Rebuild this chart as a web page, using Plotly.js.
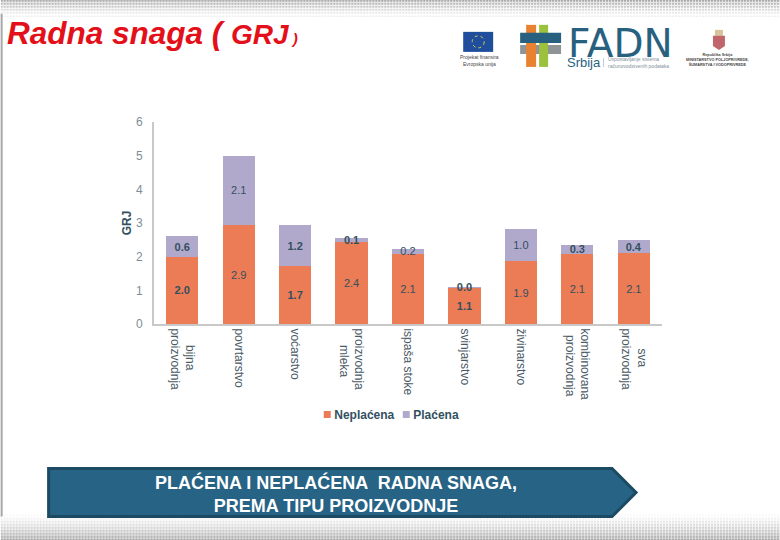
<!DOCTYPE html>
<html><head><meta charset="utf-8">
<script src="https://cdn.plot.ly/plotly-3.0.1.min.js"></script>
<style>html,body{margin:0;padding:0;background:#fff}#c{width:780px;height:540px}</style>
</head><body><div id="c"></div>
<script>
const categories = ["\u00A0\u00A0\u00A0\u00A0\u00A0bijna<br>proizvodnja","povrtarstvo","voćarstvo","proizvodnja<br>\u00A0\u00A0\u00A0\u00A0\u00A0mleka","ispaša stoke","svinjarstvo","živinarstvo","kombinovana<br>\u00A0\u00A0proizvodnja","\u00A0\u00A0\u00A0\u00A0\u00A0\u00A0sva<br>proizvodnja"];
const neplacena = [2.0,2.94,1.72,2.43,2.08,1.08,1.87,2.09,2.1];
const placena = [0.6,2.06,1.22,0.12,0.16,0.02,0.96,0.25,0.39];
const neplacenaWeights = [700,400,700,400,400,700,400,400,400];
const placenaWeights = [700,400,700,700,400,700,400,700,700];
const yTicks = [0,1,2,3,4,5,6];
const W=780,H=540;
const L=153.5,R=662,T=122,B=323.7;
const px=x=>(x-L)/(R-L), py=y=>(B-y)/(B-T);
function rect(x0,y0,x1,y1,fill,extra){return Object.assign({type:'rect',xref:'paper',yref:'paper',x0:px(x0),x1:px(x1),y0:py(y0),y1:py(y1),fillcolor:fill,line:{width:0},layer:'above'},extra||{});}
function note(x,y,text,size,color,extra){return Object.assign({xref:'paper',yref:'paper',x:px(x),y:py(y),text:text,showarrow:false,font:{size:size,color:color,family:'Liberation Sans'},xanchor:'center',yanchor:'middle'},extra||{});}
function band(dir,h){
  const top=dir>0?'#dedede':'#ffffff', bot=dir>0?'#ffffff':'#d0d0d0';
  const o0=dir>0?0:1, o1=dir>0?1:0;
  const svg=`<svg xmlns="http://www.w3.org/2000/svg" width="780" height="${h}"><defs><pattern id="p" width="3" height="3" patternUnits="userSpaceOnUse"><rect width="2" height="2" fill="#a6a6a6"/></pattern><linearGradient id="b" x1="0" y1="0" x2="0" y2="1"><stop offset="0" stop-color="${top}"/><stop offset="1" stop-color="${bot}"/></linearGradient><linearGradient id="g" x1="0" y1="0" x2="0" y2="1"><stop offset="0" stop-color="#fff" stop-opacity="${o0}"/><stop offset="1" stop-color="#fff" stop-opacity="${o1}"/></linearGradient></defs><rect width="780" height="${h}" fill="url(#b)"/><rect width="780" height="${h}" fill="url(#p)"/><rect width="780" height="${h}" fill="url(#g)"/></svg>`;
  return 'data:image/svg+xml;base64,'+btoa(svg);
}
const shapes=[
  rect(0,14,2,516,'#a8a8a8',{layer:'below'}),
  // EU flag
  rect(463,32,493,52,'#1f4e9c'),
  {type:'circle',xref:'paper',yref:'paper',x0:px(472),x1:px(484),y0:py(36),y1:py(48),line:{color:'#d9cb55',width:1,dash:'dot'},layer:'above'},
  // FADN mark
  rect(520,45,561,54,'#8f9496'),
  rect(526,25,536,67,'#e98230'),
  rect(539,25,548,67,'#9cc13c'),
  rect(520,33,561,43,'#27617f'),
  rect(603,58,603.6,67,'#9aa8b0'),
  // crest
  rect(715,30,723,36,'#d8c49a'),
  {type:'path',xref:'paper',yref:'paper',path:`M ${px(713)} ${py(36)} L ${px(725)} ${py(36)} L ${px(725)} ${py(46)} L ${px(719)} ${py(50)} L ${px(713)} ${py(46)} Z`,fillcolor:'#c0666a',line:{width:0},layer:'above'},
  // arrow
  {type:'path',xref:'paper',yref:'paper',path:`M ${px(48)} ${py(468)} L ${px(612)} ${py(468)} L ${px(636)} ${py(492)} L ${px(612)} ${py(516)} L ${px(48)} ${py(516)} Z`,fillcolor:'#266384',line:{color:'#1d4a63',width:3},layer:'above'}
];
const annotations=[
  note(4,33,'<b><i>Radna snaga ( <span style="font-size:28px">GRJ</span><span style="font-size:15px"> )</span></i></b>',31.5,'#e3101a',{xanchor:'left'}),
  note(620,44,'FADN',39,'#27617f',{font:{size:39,color:'#27617f',family:'DejaVu Sans'}}),
  note(584,63,'Srbija',13,'#27617f'),
  note(606,62.5,'Uspostavljanje sistema<br>računovodstvenih podataka',5,'#7f919c',{xanchor:'left',align:'left'}),
  note(479,60.5,'Projekat finansira<br>Evropska unija',5,'#444'),
  note(718,60,'<b>Republika Srbija<br>MINISTARSTVO POLJOPRIVREDE,<br>ŠUMARSTVA I VODOPRIVREDE</b>',3.8,'#444'),
  note(336,493,'<b>PLAĆENA I NEPLAĆENA  RADNA SNAGA,<br>PREMA TIPU PROIZVODNJE</b>',18,'#ffffff')
];
const images=[
  {source:band(1,17),xref:'paper',yref:'paper',x:px(0),y:py(0),sizex:780/(R-L),sizey:17/(B-T),xanchor:'left',yanchor:'top',sizing:'stretch',layer:'below'},
  {source:band(-1,26),xref:'paper',yref:'paper',x:px(0),y:py(514),sizex:780/(R-L),sizey:26/(B-T),xanchor:'left',yanchor:'top',sizing:'stretch',layer:'below'}
];
const common={type:'bar',x:categories,texttemplate:'%{y:.1f}',textposition:'inside',insidetextanchor:'middle',constraintext:'none',textangle:0,cliponaxis:false,hoverinfo:'skip'};
const labelFont=w=>({size:11,color:'#33505f',family:'Liberation Sans',weight:w});
const traces=[
  Object.assign({},common,{name:'Neplaćena',y:neplacena,marker:{color:'#ec7c55'},insidetextfont:labelFont(neplacenaWeights)}),
  Object.assign({},common,{name:'Plaćena',y:placena,marker:{color:'#b1a9cc'},insidetextfont:labelFont(placenaWeights)})
];
const layout={
  width:W,height:H,paper_bgcolor:'rgba(0,0,0,0)',plot_bgcolor:'rgba(0,0,0,0)',showlegend:true,
  margin:{l:L,r:W-R,t:T,b:H-B,pad:0},barmode:'stack',bargap:0.43,
  font:{family:'Liberation Sans',color:'#555'},
  xaxis:{type:'category',tickangle:90,tickfont:{size:12,color:'#4a5a66'},ticks:'',showline:true,linecolor:'#c8c8c8',linewidth:2,showgrid:false,automargin:false},
  yaxis:{range:[0,6],tickvals:yTicks,tickfont:{size:12,color:'#7f8d96'},ticks:'',showline:true,linecolor:'#c8c8c8',linewidth:2,showgrid:false,zeroline:false,ticklabelstandoff:7,automargin:false,title:{text:'<b>GRJ</b>',font:{size:12,color:'#33505f'},standoff:2}},
  legend:{orientation:'h',xref:'paper',yref:'paper',x:px(401),xanchor:'center',y:py(414),yanchor:'middle',font:{size:12,color:'#33505f',weight:700},bgcolor:'rgba(0,0,0,0)',traceorder:'normal',entrywidth:62,entrywidthmode:'pixels'},
  shapes:shapes,annotations:annotations,images:images
};
Plotly.newPlot('c',traces,layout,{displayModeBar:false,staticPlot:true}).then(()=>{
  // smaller, closer legend swatches, as in the reference
  document.querySelectorAll('.legend .traces').forEach((g,i)=>{
    const t=g.querySelector('.legendtext');
    const p=g.querySelectorAll('.legendpoints path');
    const x=parseFloat(t.getAttribute('x'));
    p.forEach(q=>q.setAttribute('transform',`translate(${x-7},0) scale(0.58)`));
    if(i===1){
      const m=/translate\(([-\d.]+)[ ,]+([-\d.]+)\)/.exec(g.getAttribute('transform'));
      if(m) g.setAttribute('transform',`translate(${parseFloat(m[1])-28},${m[2]})`);
    }
  });
});
</script></body></html>
